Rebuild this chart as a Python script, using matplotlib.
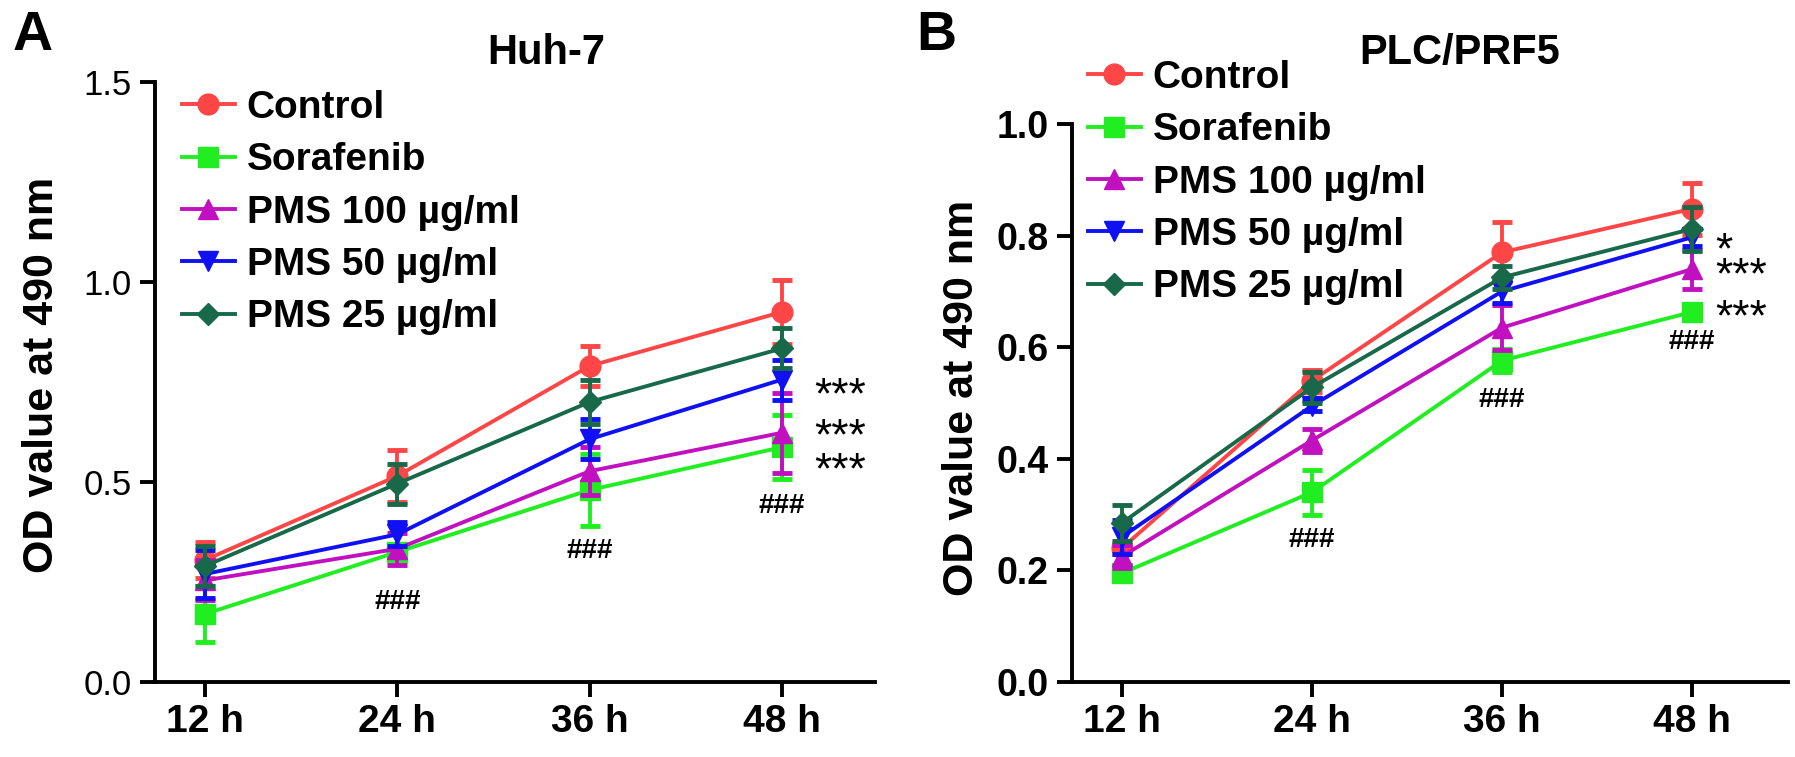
import matplotlib
matplotlib.use('Agg')
import matplotlib.pyplot as plt
from matplotlib.lines import Line2D
import numpy as np

plt.rcParams['font.family'] = ['Liberation Sans', 'DejaVu Sans']
#-----------------------------------------------------------------------------------------------------------------------
# Data
times = ['12 h', '24 h', '36 h', '48 h']
groups = ['Control', 'Sorafenib', 'PMS 100 µg/ml', 'PMS 50 µg/ml', 'PMS 25 µg/ml']
colors = ['#FF4646', '#20EE20', '#C010C0', '#1010F5', '#18694A']
markers = ['o', 's', '^', 'v', 'D']

# Huh-7
huh_mean = [[0.305, 0.515, 0.79, 0.925],
            [0.17, 0.325, 0.48, 0.587],
            [0.254, 0.333, 0.527, 0.623],
            [0.27, 0.369, 0.607, 0.756],
            [0.29, 0.496, 0.70, 0.834]]
huh_err = [[0.045, 0.065, 0.05, 0.08],
           [0.07, 0.02, 0.09, 0.08],
           [0.05, 0.04, 0.06, 0.10],
           [0.06, 0.03, 0.05, 0.05],
           [0.05, 0.05, 0.055, 0.05]]
huh_hash = [0.20, 0.327, 0.44]           # ### under Sorafenib at 24/36/48 h
huh_stars = ['***', '***', '***']
huh_star_y = [0.737, 0.635, 0.55]

# PLC/PRF5
plc_mean = [[0.24, 0.54, 0.77, 0.848],
            [0.195, 0.34, 0.576, 0.663],
            [0.225, 0.433, 0.635, 0.74],
            [0.26, 0.495, 0.70, 0.797],
            [0.285, 0.528, 0.725, 0.812]]
plc_err = [[0.01, 0.02, 0.054, 0.047],
           [0.01, 0.04, 0.02, 0.01],
           [0.02, 0.02, 0.04, 0.035],
           [0.03, 0.01, 0.02, 0.015],
           [0.033, 0.028, 0.02, 0.039]]
plc_hash = [0.255, 0.505, 0.609]
plc_stars = ['*', '***', '***']
plc_star_y = [0.789, 0.744, 0.668]

#-----------------------------------------------------------------------------------------------------------------------
fig = plt.figure(figsize=(17.95, 7.57), dpi=100)
W, H = 1795.0, 757.0
LW = 2.8


def make_axes(left, right, y0, ytop, xlo, xhi, ymax, yticks, ylabels, ybold, ysize):
    ax = fig.add_axes([left/W, (H-y0)/H, (right-left)/W, (y0-ytop)/H])
    ax.set_xlim(xlo, xhi)
    ax.set_ylim(0, ymax)
    for s in ['top', 'right']:
        ax.spines[s].set_visible(False)
    for s in ['left', 'bottom']:
        ax.spines[s].set_linewidth(LW)
    ax.set_xticks(range(4))
    ax.set_xticklabels(times, fontsize=28, fontweight='bold')
    ax.set_yticks(yticks)
    ax.set_yticklabels(ylabels, fontsize=ysize, fontweight='bold' if ybold else 'normal')
    ax.tick_params(width=LW, length=11)
    ax.tick_params(axis='x', pad=5)
    ax.tick_params(axis='y', pad=6)
    return ax


def draw(ax, means, errs, hashes, stars, star_y, star_x):
    x = np.arange(4)
    for k in range(5):
        ax.errorbar(x, means[k], yerr=errs[k], color=colors[k], marker=markers[k],
                    markersize=15 if markers[k] != 'D' else 11, linewidth=LW,
                    elinewidth=LW, capsize=7, capthick=3.5, clip_on=False, zorder=3+k)
    for i, v in enumerate(hashes):
        ax.text(i+1, v, '###', fontsize=20, fontweight='bold', ha='center', va='center')
    for s, v in zip(stars, star_y):
        ax.annotate(s, (star_x, v), xytext=(0, -7), textcoords='offset points', fontsize=32,
                    ha='left', va='center', annotation_clip=False)


def add_legend(ax, left, top):
    handles = [Line2D([], [], color=colors[k], marker=markers[k], linewidth=LW,
                      markersize=15 if markers[k] != 'D' else 11) for k in range(5)]
    ax.legend(handles, groups, loc='upper left', bbox_to_anchor=(left/W, 1-top/H),
              bbox_transform=fig.transFigure, frameon=False, prop={'size': 28, 'weight': 'bold'},
              handlelength=1.36, handletextpad=0.3, labelspacing=0.42, borderpad=0, borderaxespad=0)


# Panel A: spine x=155, 12 h at 205, 192 px per step; y 0 at 682, 1.5 at 82
axA = make_axes(155, 875, 682, 82, -0.26, 3.484, 1.5, [0, 0.5, 1.0, 1.5],
                ['0.0', '0.5', '1.0', '1.5'], False, 25)
draw(axA, huh_mean, huh_err, huh_hash, huh_stars, huh_star_y, 3.167)
add_legend(axA, 182, 90)

# Panel B: spine x=1072, 12 h at 1122, 190 px per step; y 0 at 682, 1.0 at 124
axB = make_axes(1072, 1788, 682, 124, -0.263, 3.505, 1.0, [0, 0.2, 0.4, 0.6, 0.8, 1.0],
                ['0.0', '0.2', '0.4', '0.6', '0.8', '1.0'], True, 27)
draw(axB, plc_mean, plc_err, plc_hash, plc_stars, plc_star_y, 3.12)
add_legend(axB, 1088, 60)

# Titles, axis labels, panel letters
fig.text(546/W, 1-53/H, 'Huh-7', fontsize=30, fontweight='bold', ha='center', va='center')
fig.text(1460/W, 1-53/H, 'PLC/PRF5', fontsize=30, fontweight='bold', ha='center', va='center')
fig.text(42/W, 1-375/H, 'OD value at 490 nm', fontsize=31, fontweight='bold', rotation=90,
         ha='center', va='center')
fig.text(962/W, 1-398/H, 'OD value at 490 nm', fontsize=31, fontweight='bold', rotation=90,
         ha='center', va='center')
fig.text(33/W, 1-36/H, 'A', fontsize=40, fontweight='bold', ha='center', va='center')
fig.text(936/W, 1-36/H, 'B', fontsize=40, fontweight='bold', ha='center', va='center')

fig.savefig('out.png', dpi=100)
